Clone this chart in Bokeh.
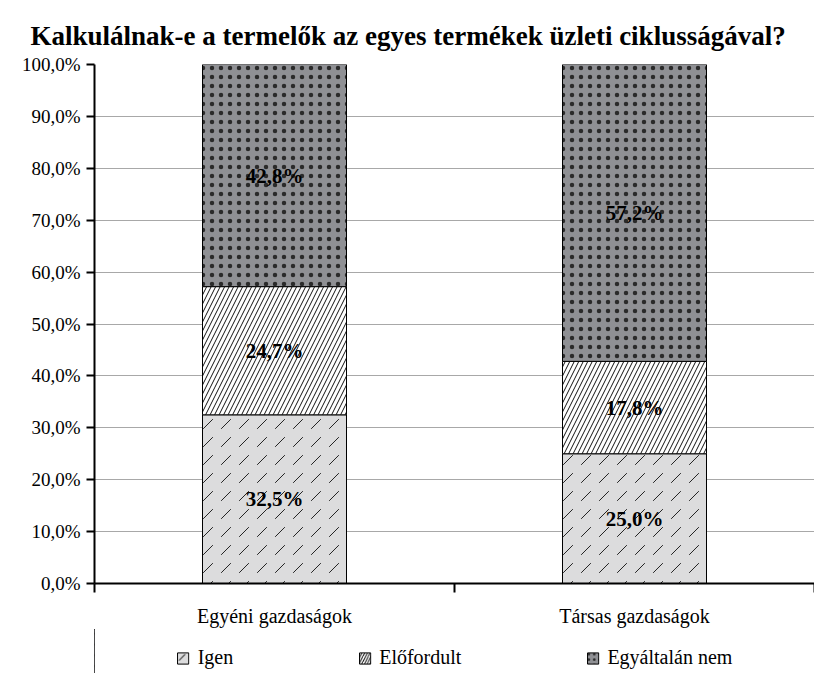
from bokeh.plotting import figure
from bokeh.models import Range1d, FixedTicker, Legend, LegendItem, ColumnDataSource
from bokeh.layouts import column
from bokeh.core.properties import value
from bokeh.embed import file_html
from bokeh.resources import INLINE

title = "Kalkulálnak-e a termelők az egyes termékek üzleti ciklusságával?"
categories = ["Egyéni gazdaságok", "Társas gazdaságok"]
series_names = ["Igen", "Előfordult", "Egyáltalán nem"]
igen = [32.5, 25.0]
elofordult = [24.7, 17.8]
egyaltalan_nem = [42.8, 57.2]
y_ticks = [0, 10, 20, 30, 40, 50, 60, 70, 80, 90, 100]
y_tick_labels = ["0,0%", "10,0%", "20,0%", "30,0%", "40,0%", "50,0%",
                 "60,0%", "70,0%", "80,0%", "90,0%", "100,0%"]

FONT = "Liberation Serif"

p = figure(frame_width=720, frame_height=519, output_backend="svg", toolbar_location=None,
           x_range=Range1d(0, 2), y_range=Range1d(0, 100),
           min_border_left=94, min_border_right=0, min_border_top=64, min_border_bottom=0)
p.title.text = title
p.title.text_font = FONT
p.title.text_font_size = "27px"
p.title.text_font_style = "bold"
p.title.text_color = "black"
p.title.align = "left"
p.title.offset = -64
p.title.standoff = 28
p.outline_line_color = None
p.background_fill_color = "white"

xs = [i + 0.5 for i in range(len(categories))]
series = [igen, elofordult, egyaltalan_nem]
fills = ["#dcdcdd", "white", "#8f9094"]
hatches = [",", "/", "."]
hatch_scales = [18, 9, 9]
hatch_colors = ["#222222", "#111111", "#2a2a2a"]
hatch_weights = [1, 1, 0.7]

# legend strip below the chart (its x range lies away from the bars, only the legend shows)
lg = figure(width=814, height=44, output_backend="svg", toolbar_location=None,
            x_range=Range1d(10, 11), y_range=Range1d(0, 1),
            x_axis_location=None, y_axis_location=None,
            min_border_left=94, min_border_right=0, min_border_top=0, min_border_bottom=0)
lg.outline_line_color = None
lg.xgrid.grid_line_color = None
lg.ygrid.grid_line_color = None
items = []

bottoms = [0.0] * len(categories)
for k, vals in enumerate(series):
    tops = [b + v for b, v in zip(bottoms, vals)]
    src = ColumnDataSource(dict(x=xs, bottom=bottoms, top=tops,
                                mid=[(b + t) / 2 for b, t in zip(bottoms, tops)],
                                lab=[("%.1f%%" % v).replace(".", ",") for v in vals]))
    p.vbar(x="x", bottom="bottom", top="top", width=0.4, source=src,
           fill_color=fills[k], line_color="black", line_width=1,
           hatch_pattern=hatches[k], hatch_scale=hatch_scales[k],
           hatch_color=hatch_colors[k], hatch_weight=hatch_weights[k])
    p.text(x="x", y="mid", text="lab", source=src, text_align="center",
           text_baseline="middle", text_font=value(FONT), text_font_size="21px",
           text_font_style="bold", text_color="black")
    r = lg.vbar(x="x", bottom="bottom", top="top", width=0.4, source=src,
                fill_color=fills[k], line_color="black", line_width=1,
                hatch_pattern=hatches[k], hatch_scale=max(4, hatch_scales[k] * 0.6),
                hatch_color=hatch_colors[k], hatch_weight=hatch_weights[k])
    items.append(LegendItem(label=series_names[k], renderers=[r], index=0))
    bottoms = tops

# axes
p.yaxis.ticker = FixedTicker(ticks=y_ticks)
p.yaxis.major_label_overrides = {t: l for t, l in zip(y_ticks, y_tick_labels)}
p.yaxis.major_label_text_font = FONT
p.yaxis.major_label_text_font_size = "19px"
p.yaxis.major_label_text_color = "black"
p.yaxis.major_tick_out = 8
p.yaxis.major_tick_in = 0
p.yaxis.major_tick_line_width = 2
p.yaxis.minor_tick_line_color = None
p.yaxis.axis_line_width = 2
p.yaxis.axis_line_color = "black"
p.yaxis.major_label_standoff = 6

p.xaxis.ticker = FixedTicker(ticks=xs, minor_ticks=[0, 1, 2])
p.xaxis.major_label_overrides = {x: c for x, c in zip(xs, categories)}
p.xaxis.major_label_text_font = FONT
p.xaxis.major_label_text_font_size = "20px"
p.xaxis.major_label_text_color = "black"
p.xaxis.major_tick_line_color = None
p.xaxis.major_tick_out = 0
p.xaxis.minor_tick_out = 9
p.xaxis.minor_tick_in = 0
p.xaxis.minor_tick_line_width = 2
p.xaxis.minor_tick_line_color = "black"
p.xaxis.axis_line_width = 2
p.xaxis.axis_line_color = "black"
p.xaxis.major_label_standoff = 12

p.xgrid.grid_line_color = None
p.ygrid.ticker = FixedTicker(ticks=y_ticks)
p.ygrid.grid_line_color = "#a8a8a8"
p.ygrid.grid_line_width = 1

legend = Legend(items=items, orientation="horizontal", location="bottom_center", spacing=124,
                glyph_width=14, glyph_height=14, label_standoff=8,
                label_text_font=FONT, label_text_font_size="20px", label_text_color="black",
                border_line_color=None, background_fill_alpha=0, padding=0, margin=4)
lg.add_layout(legend, "center")

layout = column(p, lg, spacing=0)
open("out.html", "w").write(file_html(layout, INLINE))
